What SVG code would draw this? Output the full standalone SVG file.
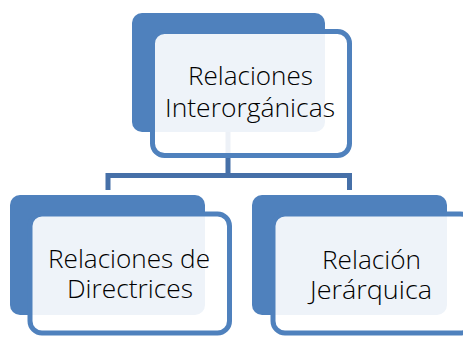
<svg xmlns="http://www.w3.org/2000/svg" width="463" height="337" viewBox="0 0 463 337">
<style>
.back{fill:#4F81BD;}
.front{fill:#FFFFFF;fill-opacity:0.9;stroke:#4F81BD;stroke-width:5;}
.conn{fill:none;stroke:#4670A8;stroke-width:5;}
.lbl{font-family:"Open Sans","Liberation Sans",Arial,sans-serif;font-weight:300;font-size:25px;fill:#000000;text-anchor:middle;}
</style>
<rect width="463" height="337" fill="#FFFFFF"/>
<g id="connectors">
<path class="conn" d="M228 132 V175.5 M108 190 V175.5 H349.5 V190"/>
</g>
<g id="node-top">
<rect class="back" x="132" y="13" width="193" height="119" rx="10"/>
<rect class="front" x="152.5" y="31.5" width="197" height="124" rx="12"/>
<text class="lbl" x="250.5" y="85" textLength="125" lengthAdjust="spacingAndGlyphs">Relaciones</text>
<text class="lbl" x="250" y="117" textLength="170" lengthAdjust="spacingAndGlyphs">Interorgánicas</text>
</g>
<g id="node-left">
<rect class="back" x="10" y="195" width="195" height="120" rx="10"/>
<rect class="front" x="30" y="214" width="199.5" height="119" rx="12"/>
<text class="lbl" x="129" y="268" textLength="162" lengthAdjust="spacingAndGlyphs">Relaciones de</text>
<text class="lbl" x="130" y="298" textLength="126" lengthAdjust="spacingAndGlyphs">Directrices</text>
</g>
<g id="node-right">
<rect class="back" x="252" y="195" width="195" height="120" rx="10"/>
<rect class="front" x="273" y="214" width="199.5" height="119" rx="12"/>
<text class="lbl" x="371.5" y="269" textLength="99" lengthAdjust="spacingAndGlyphs">Relación</text>
<text class="lbl" x="371" y="299" textLength="122" lengthAdjust="spacingAndGlyphs">Jerárquica</text>
</g>
</svg>
